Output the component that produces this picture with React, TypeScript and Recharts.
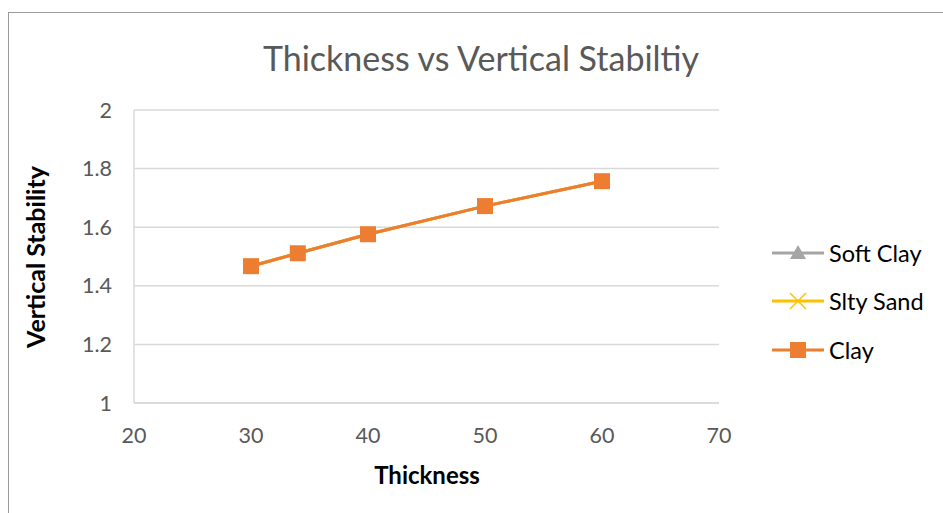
import React from 'react';
import { LineChart, Line, XAxis, YAxis, CartesianGrid, Legend } from 'recharts';

const thickness = [30, 34, 40, 50, 60];
const softClay = [1.467, 1.511, 1.576, 1.672, 1.757];
const siltySand = [1.467, 1.511, 1.576, 1.672, 1.757];
const clay = [1.467, 1.511, 1.576, 1.672, 1.757];
const xTicks = [20, 30, 40, 50, 60, 70];
const yTicks = [1, 1.2, 1.4, 1.6, 1.8, 2];
const seriesNames = ['Soft Clay', 'Slty Sand', 'Clay'];
const seriesColors = ['#A5A5A5', '#FFC000', '#ED7D31'];

const data = thickness.map((t, i) => ({ t, softClay: softClay[i], siltySand: siltySand[i], clay: clay[i] }));

const FONT = 'Lato, "Open Sans", sans-serif';

const SquareDot = (props: any) => {
  const { cx, cy } = props;
  if (cx == null || cy == null) return null;
  return <rect x={cx - 8} y={cy - 8} width={16} height={16} fill="#ED7D31" />;
};
const TriDot = (props: any) => {
  const { cx, cy } = props;
  if (cx == null || cy == null) return null;
  return <polygon points={`${cx},${cy - 6} ${cx - 6},${cy + 5} ${cx + 6},${cy + 5}`} fill="#A5A5A5" />;
};
const XDot = (props: any) => {
  const { cx, cy } = props;
  if (cx == null || cy == null) return null;
  return (
    <g stroke="#FFC000" strokeWidth={1.5}>
      <line x1={cx - 6} y1={cy - 6} x2={cx + 6} y2={cy + 6} />
      <line x1={cx - 6} y1={cy + 6} x2={cx + 6} y2={cy - 6} />
    </g>
  );
};

const LegendContent = () => {
  const rows = [253, 301, 350];
  return (
    <svg width={943} height={513} style={{ position: 'absolute', left: 0, top: 0, pointerEvents: 'none' }}>
      {seriesNames.map((n, i) => {
        const y = rows[i];
        const c = seriesColors[i];
        return (
          <g key={n}>
            <line x1={772} y1={y} x2={824} y2={y} stroke={c} strokeWidth={3} />
            {i === 0 && <polygon points={`798,${y - 8} 790,${y + 6} 806,${y + 6}`} fill={c} />}
            {i === 1 && (
              <g stroke={c} strokeWidth={1.5}>
                <line x1={790} y1={y - 8} x2={806} y2={y + 8} />
                <line x1={790} y1={y + 8} x2={806} y2={y - 8} />
              </g>
            )}
            {i === 2 && <rect x={790} y={y - 8} width={16} height={16} fill={c} />}
            <text x={829} y={y} dominantBaseline="central" fontSize={23.5} fill="#000" fontFamily={FONT}>{n}</text>
          </g>
        );
      })}
    </svg>
  );
};

export default function App() {
  return (
    <div style={{ position: 'absolute', left: 0, top: 0, width: 943, height: 513, overflow: 'hidden', background: '#fff' }}>
      <div style={{ position: 'absolute', left: 8, top: 12, width: 1000, height: 600, border: '1px solid #9a9a9a' }} />
      <div style={{ position: 'absolute', left: 0, top: 0 }}>
        <LineChart width={943} height={513} data={data} margin={{ top: 110, right: 224, left: 74, bottom: 70 }}>
          <CartesianGrid horizontal vertical={false} stroke="#D9D9D9" strokeWidth={1.5} />
          <XAxis
            dataKey="t"
            type="number"
            domain={[20, 70]}
            ticks={xTicks}
            height={40}
            tickLine={false}
            tickMargin={19}
            axisLine={{ stroke: '#D9D9D9', strokeWidth: 1.5 }}
            tick={{ fill: '#595959', fontSize: 21.5, fontFamily: FONT }}
          />
          <YAxis
            type="number"
            domain={[1, 2]}
            ticks={yTicks}
            width={60}
            tickLine={false}
            tickMargin={16}
            axisLine={{ stroke: '#D9D9D9', strokeWidth: 1.5 }}
            tick={{ fill: '#595959', fontSize: 21.5, fontFamily: FONT }}
          />
          <Legend content={() => null} />
          <Line dataKey="softClay" name={seriesNames[0]} stroke={seriesColors[0]} strokeWidth={3} dot={<TriDot />} isAnimationActive={false} />
          <Line dataKey="siltySand" name={seriesNames[1]} stroke={seriesColors[1]} strokeWidth={3} dot={<XDot />} isAnimationActive={false} />
          <Line dataKey="clay" name={seriesNames[2]} stroke={seriesColors[2]} strokeWidth={3} dot={<SquareDot />} isAnimationActive={false} />
        </LineChart>
      </div>
      <svg width={943} height={513} style={{ position: 'absolute', left: 0, top: 0, pointerEvents: 'none' }}>
        <text x={481} y={57} textAnchor="middle" dominantBaseline="central" fontSize={34} fill="#595959" fontFamily={FONT}>
          Thickness vs Vertical Stabiltiy
        </text>
        <text x={427} y={474} textAnchor="middle" dominantBaseline="central" fontSize={24} fontWeight="bold" fill="#000" fontFamily={FONT}>
          Thickness
        </text>
        <text x={35} y={257} textAnchor="middle" dominantBaseline="central" fontSize={25} fontWeight="bold" fill="#000" fontFamily={FONT} transform="rotate(-90 35 257)">
          Vertical Stability
        </text>
      </svg>
      <LegendContent />
    </div>
  );
}
